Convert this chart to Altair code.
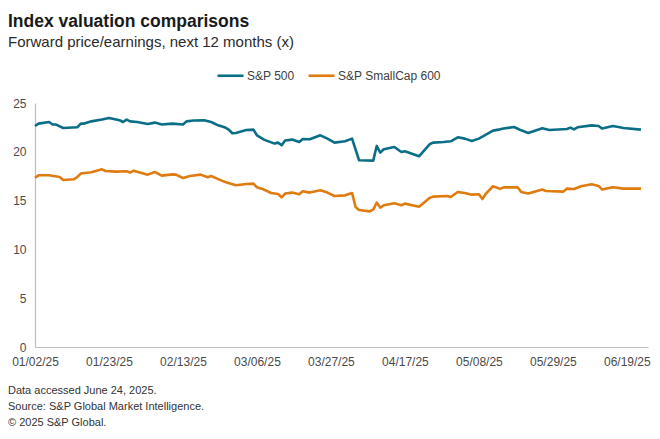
import altair as alt
import pandas as pd

series_names = ["S&P 500", "S&P SmallCap 600"]
series_colors = ["#0A6E87", "#E07B10"]

sp500_dates = [
    "2025-01-02", "2025-01-03", "2025-01-06", "2025-01-07", "2025-01-08", "2025-01-10",
    "2025-01-14", "2025-01-15", "2025-01-16", "2025-01-18", "2025-01-21", "2025-01-23",
    "2025-01-26", "2025-01-27", "2025-01-28", "2025-01-29", "2025-01-31", "2025-02-03",
    "2025-02-05", "2025-02-07", "2025-02-10", "2025-02-13", "2025-02-14", "2025-02-16",
    "2025-02-19", "2025-02-21", "2025-02-23", "2025-02-25", "2025-02-26", "2025-02-27",
    "2025-02-28", "2025-03-03", "2025-03-05", "2025-03-06", "2025-03-08", "2025-03-11",
    "2025-03-12", "2025-03-13", "2025-03-14", "2025-03-16", "2025-03-18", "2025-03-19",
    "2025-03-21", "2025-03-24", "2025-03-26", "2025-03-28", "2025-03-31", "2025-04-02",
    "2025-04-04", "2025-04-08", "2025-04-09", "2025-04-10", "2025-04-11", "2025-04-14",
    "2025-04-16", "2025-04-17", "2025-04-21", "2025-04-24", "2025-04-25", "2025-04-28",
    "2025-04-30", "2025-05-02", "2025-05-04", "2025-05-06", "2025-05-08", "2025-05-10",
    "2025-05-12", "2025-05-14", "2025-05-15", "2025-05-18", "2025-05-20", "2025-05-22",
    "2025-05-26", "2025-05-28", "2025-06-02", "2025-06-03", "2025-06-04", "2025-06-05",
    "2025-06-09", "2025-06-11", "2025-06-12", "2025-06-15", "2025-06-17", "2025-06-18",
    "2025-06-23",
]
sp500_values = [
    22.64, 22.89, 23.05, 22.79, 22.79, 22.44,
    22.51, 22.89, 22.89, 23.12, 23.30, 23.47,
    23.23, 23.05, 23.30, 23.12, 23.05, 22.85,
    22.99, 22.79, 22.89, 22.79, 23.12, 23.20,
    23.23, 23.05, 22.71, 22.48, 22.27, 21.90,
    21.93, 22.23, 22.27, 21.69, 21.25, 20.84,
    20.94, 20.67, 21.15, 21.25, 21.00, 21.31,
    21.28, 21.69, 21.35, 20.94, 21.08, 21.35,
    19.13, 19.10, 20.60, 19.92, 20.26, 20.49,
    19.98, 20.05, 19.54, 20.77, 20.94, 21.00,
    21.08, 21.49, 21.35, 21.11, 21.35, 21.76,
    22.17, 22.30, 22.38, 22.54, 22.20, 21.93,
    22.41, 22.23, 22.34, 22.48, 22.30, 22.51,
    22.71, 22.64, 22.38, 22.64, 22.51, 22.44,
    22.27,
]

small_dates = [
    "2025-01-02", "2025-01-03", "2025-01-06", "2025-01-09", "2025-01-10", "2025-01-13",
    "2025-01-14", "2025-01-15", "2025-01-18", "2025-01-21", "2025-01-22", "2025-01-25",
    "2025-01-28", "2025-01-29", "2025-01-30", "2025-02-03", "2025-02-05", "2025-02-07",
    "2025-02-10", "2025-02-11", "2025-02-13", "2025-02-15", "2025-02-18", "2025-02-20",
    "2025-02-21", "2025-02-24", "2025-02-25", "2025-02-28", "2025-03-03", "2025-03-05",
    "2025-03-06", "2025-03-08", "2025-03-10", "2025-03-12", "2025-03-13", "2025-03-14",
    "2025-03-16", "2025-03-18", "2025-03-19", "2025-03-21", "2025-03-24", "2025-03-26",
    "2025-03-28", "2025-03-31", "2025-04-02", "2025-04-03", "2025-04-04", "2025-04-07",
    "2025-04-08", "2025-04-09", "2025-04-10", "2025-04-11", "2025-04-14", "2025-04-16",
    "2025-04-17", "2025-04-21", "2025-04-24", "2025-04-25", "2025-04-29", "2025-04-30",
    "2025-05-02", "2025-05-04", "2025-05-06", "2025-05-08", "2025-05-09", "2025-05-10",
    "2025-05-12", "2025-05-14", "2025-05-15", "2025-05-19", "2025-05-20", "2025-05-22",
    "2025-05-26", "2025-05-27", "2025-06-01", "2025-06-02", "2025-06-04", "2025-06-06",
    "2025-06-09", "2025-06-11", "2025-06-12", "2025-06-15", "2025-06-18", "2025-06-23",
]
small_values = [
    17.36, 17.59, 17.59, 17.42, 17.11, 17.18,
    17.42, 17.77, 17.90, 18.20, 18.03, 17.97,
    18.00, 17.87, 18.07, 17.66, 17.93, 17.56,
    17.69, 17.66, 17.32, 17.52, 17.66, 17.39,
    17.52, 17.05, 16.91, 16.57, 16.70, 16.74,
    16.36, 16.13, 15.78, 15.68, 15.34, 15.72,
    15.82, 15.65, 15.95, 15.82, 16.05, 15.82,
    15.47, 15.54, 15.78, 14.34, 14.04, 13.90,
    14.08, 14.80, 14.28, 14.52, 14.72, 14.52,
    14.69, 14.38, 15.27, 15.41, 15.47, 15.37,
    15.88, 15.78, 15.61, 15.65, 15.16, 15.72,
    16.47, 16.20, 16.36, 16.36, 15.88, 15.72,
    16.13, 15.98, 15.92, 16.23, 16.19, 16.47,
    16.67, 16.50, 16.13, 16.36, 16.23, 16.23,
]

x_tick_dates = [(2025, 1, 2), (2025, 1, 23), (2025, 2, 13), (2025, 3, 6), (2025, 3, 27),
                (2025, 4, 17), (2025, 5, 8), (2025, 5, 29), (2025, 6, 19)]
x_domain = [(2025, 1, 2), (2025, 6, 25)]
y_ticks = [0, 5, 10, 15, 20, 25]

title_text = "Index valuation comparisons"
subtitle_text = "Forward price/earnings, next 12 months (x)"
footer_lines = [
    "Data accessed June 24, 2025.",
    "Source: S&P Global Market Intelligence.",
    "\u00a9 2025 S&P Global.",
]

FONT = "Liberation Sans"

df = pd.concat([
    pd.DataFrame({"date": sp500_dates, "pe": sp500_values, "series": series_names[0]}),
    pd.DataFrame({"date": small_dates, "pe": small_values, "series": series_names[1]}),
], ignore_index=True)


def dt(t):
    return alt.DateTime(year=t[0], month=t[1], date=t[2], utc=True)


lines = alt.Chart(df).mark_line(strokeWidth=2.6, strokeJoin="round").encode(
    x=alt.X(
        "date:T",
        scale=alt.Scale(type="utc", domain=[dt(d) for d in x_domain]),
        axis=alt.Axis(
            title=None, values=[dt(d) for d in x_tick_dates],
            labelExpr="utcFormat(datum.value, '%m/%d/%y')",
            ticks=False, tickSize=0, grid=False, labelPadding=9,
            labelFontSize=12, labelColor="#4a4a4a", labelFont=FONT,
            domainColor="#bdbdbd", domainWidth=1.2, labelOverlap=False,
            labelFlush=False,
        ),
    ),
    y=alt.Y(
        "pe:Q",
        scale=alt.Scale(domain=[0, 25], nice=False),
        axis=alt.Axis(
            title=None, values=y_ticks, ticks=False, tickSize=0, grid=False,
            labelPadding=9, labelFontSize=12, labelColor="#4a4a4a", labelFont=FONT,
            domainColor="#bdbdbd", domainWidth=1.2, labelFlush=False,
        ),
    ),
    color=alt.Color(
        "series:N",
        scale=alt.Scale(domain=series_names, range=series_colors),
        legend=alt.Legend(
            title=None, orient="none", legendX=181, legendY=-42, direction="horizontal",
            symbolType="stroke", symbolSize=676, symbolStrokeWidth=2.6,
            labelFontSize=12, labelFont=FONT, labelColor="#404040", labelOffset=2,
            columnPadding=8,
        ),
    ),
)

one = pd.DataFrame({"k": [0]})

title = alt.Chart(one).mark_text(
    text=title_text, align="left", baseline="alphabetic", fontSize=17.5,
    fontWeight="bold", font=FONT, color="#1a1a1a",
).encode(x=alt.value(-27), y=alt.value(-76))

subtitle = alt.Chart(one).mark_text(
    text=subtitle_text, align="left", baseline="alphabetic", fontSize=15,
    font=FONT, color="#2a2a2a",
).encode(x=alt.value(-27), y=alt.value(-56))

footer = alt.Chart(one).mark_text(
    text=footer_lines, align="left", baseline="middle", fontSize=11,
    lineHeight=16, font=FONT, color="#333333",
).encode(x=alt.value(-27), y=alt.value(288))

chart = alt.layer(lines, title, subtitle, footer).properties(
    width=613, height=244,
    autosize=alt.AutoSizeParams(type="none"),
    padding={"left": 27, "top": 95, "right": 4, "bottom": 84},
).configure_view(stroke=None)

chart.save("out.html", embed_options={"renderer": "svg", "actions": False})
